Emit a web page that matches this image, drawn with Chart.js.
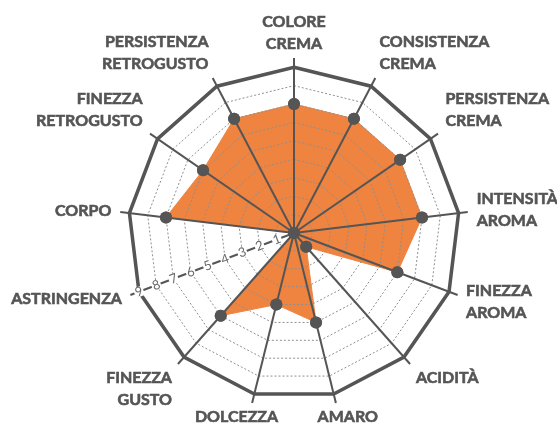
<!DOCTYPE html>
<html>
<head>
<meta charset="utf-8">
<script src="https://cdn.jsdelivr.net/npm/chart.js@4.4.1/dist/chart.umd.min.js"></script>
<style>
  html, body { margin: 0; padding: 0; background: #fff; }
  #wrap { width: 557px; height: 428px; position: relative; }
</style>
</head>
<body>
<div id="wrap"><canvas id="myChart"></canvas></div>
<script>
// categories, clockwise from the top
const labels = [
  "COLORE CREMA", "CONSISTENZA CREMA", "PERSISTENZA CREMA", "INTENSITÀ AROMA",
  "FINEZZA AROMA", "ACIDITÀ", "AMARO", "DOLCEZZA", "FINEZZA GUSTO",
  "ASTRINGENZA", "CORPO", "FINEZZA RETROGUSTO", "PERSISTENZA RETROGUSTO"
];
const scores = [7, 7, 7, 7, 6, 1, 5, 4, 6, 0, 7, 6, 7];
const tickValues = [1, 2, 3, 4, 5, 6, 7, 8, 9];
const tickAxis = "ASTRINGENZA";

const grey = "#555";
const orange = "#EF8340";

// labels, tick numbers and dots drawn on top of the scale
const overlay = {
  id: "overlay",
  afterDraw(chart) {
    const ctx = chart.ctx;
    const r = chart.scales.r;

    // dots above the angle lines
    chart.getDatasetMeta(0).data.forEach(p => p.draw(ctx, chart.chartArea));

    // tick numbers along the astringenza axis
    const k = labels.indexOf(tickAxis);
    const rot = r.getIndexAngle(k) + Math.PI / 2;
    ctx.save();
    ctx.font = "13px Lato";
    ctx.textAlign = "center";
    ctx.textBaseline = "middle";
    tickValues.forEach(v => {
      const p = r.getPointPositionForValue(k, v);
      const w = ctx.measureText(String(v)).width;
      ctx.save();
      ctx.translate(p.x, p.y);
      ctx.rotate(rot);
      ctx.fillStyle = "#fff";
      ctx.fillRect(-w / 2 - 1, -5, w + 2, 10);
      ctx.fillStyle = "#6a6a6a";
      ctx.fillText(String(v), 0, 0);
      ctx.restore();
    });
    ctx.restore();

    // category labels
    ctx.save();
    ctx.font = "bold 16px Lato";
    ctx.fillStyle = grey;
    ctx.strokeStyle = grey;
    ctx.lineWidth = 0.6;
    ctx.textBaseline = "middle";
    const lh = 22.3;
    labels.forEach((txt, i) => {
      const lines = txt.split(" ");
      const a = r.getIndexAngle(i);
      const s = Math.sin(a), c = Math.cos(a);
      const end = r.getPointPosition(i, r.drawingArea);
      const ax = end.x + 9 * s, ay = end.y - 3 * c;
      const w = Math.max(...lines.map(l => ctx.measureText(l).width));
      const h = lines.length * lh;
      const fx = Math.abs(s) < 0.35 ? s * 1.35 : Math.sign(s);
      const fy = Math.abs(c) < 0.45 ? -c * 0.7 : -Math.sign(c);
      const cx = ax + fx * w / 2, cy = ay + fy * h / 2;
      let x;
      if (fx === 1) { ctx.textAlign = "left"; x = cx - w / 2; }
      else if (fx === -1) { ctx.textAlign = "right"; x = cx + w / 2; }
      else { ctx.textAlign = "center"; x = cx; }
      lines.forEach((l, j) => {
        const y = cy - h / 2 + lh / 2 + j * lh;
        ctx.fillText(l, x, y);
        ctx.strokeText(l, x, y);
      });
    });
    ctx.restore();
  }
};

const data = {
  labels: labels,
  datasets: [{
    data: scores,
    backgroundColor: orange,
    borderColor: orange,
    borderWidth: 1,
    pointRadius: 6,
    pointHoverRadius: 6,
    pointBackgroundColor: grey,
    pointBorderWidth: 0
  }]
};

const config = {
  type: "radar",
  data,
  options: {
    responsive: true,
    maintainAspectRatio: false,
    animation: false,
    layout: { padding: { left: 119, right: 88, top: 58, bottom: 20 } },
    plugins: { legend: { display: false }, tooltip: { enabled: false } },
    scales: {
      r: {
        min: 0,
        max: 9.5,
        bounds: "data",
        startAngle: 0,
        afterBuildTicks: scale => {
          scale.ticks = [0, ...tickValues].map(value => ({ value }));
        },
        ticks: { display: false, stepSize: 1 },
        pointLabels: { display: false },
        angleLines: { color: grey, lineWidth: 2 },
        grid: {
          z: 1,
          color: ctx => ctx.tick.value === 9 ? grey : "#8f8f8f",
          lineWidth: ctx => ctx.tick.value === 9 ? 3.5 : 1
        },
        border: {
          dash: ctx => ctx.tick.value === 9 ? [] : [2, 2]
        }
      }
    }
  },
  plugins: [overlay]
};

const myChart = new Chart(document.getElementById("myChart"), config);
</script>
</body>
</html>
